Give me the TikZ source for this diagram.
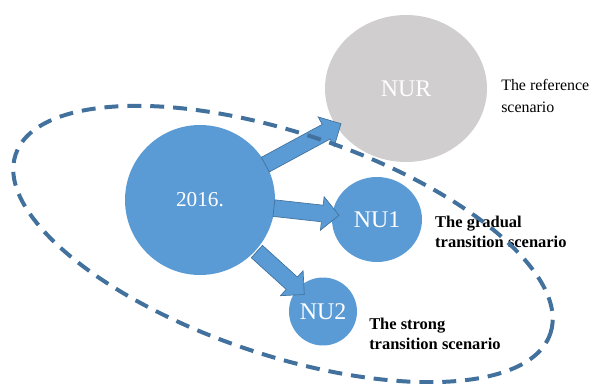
\documentclass[tikz,border=0pt]{standalone}
\usepackage{fontspec}
\setmainfont{Liberation Serif}
\usetikzlibrary{shapes.geometric}
\usetikzlibrary{shapes.arrows}

\begin{document}
\begin{tikzpicture}[
    bubble/.style={ellipse, inner sep=0pt, fill={rgb,255:red,91;green,155;blue,213}, text={rgb,255:red,255;green,255;blue,255}, font=\fontsize{18}{20}\selectfont},
    blockarrow/.style={single arrow, sloped, inner xsep=0pt, inner ysep=0.2115cm, single arrow head extend=0.225cm, draw={rgb,255:red,65;green,113;blue,156}, fill={rgb,255:red,91;green,155;blue,213}, line width=0.5pt},
    caption/.style={anchor=west, align=left, inner sep=0pt, text={rgb,255:red,0;green,0;blue,0}},
    rimline/.style={draw={rgb,255:red,65;green,113;blue,156}, line width=3pt, dash pattern=on 10.5pt off 6.75pt}
]
    \useasboundingbox (0,0) rectangle (15.690,10.134);

    \node[bubble, minimum width=3.969cm, minimum height=3.969cm, font=\fontsize{16}{18}\selectfont] (ndYear) at (5.292,4.842) {2016.};
    \node[bubble, minimum width=4.286cm, minimum height=3.889cm, fill={rgb,255:red,208;green,206;blue,206}] (ndRef) at (10.742,7.792) {NUR};
    \node[bubble, minimum width=2.381cm, minimum height=2.249cm] (ndGradual) at (9.975,4.326) {NU1};
    \node[bubble, minimum width=1.799cm, minimum height=1.799cm] (ndStrong) at (8.546,1.892) {NU2};

    \path (ndYear.center) -- (ndRef.center) node[blockarrow, pos=0.483, minimum height=2.275cm] (ndArrowRef) {};
    \path (ndYear.center) -- (ndGradual.center) node[blockarrow, pos=0.578, minimum height=1.733cm] (ndArrowGradual) {};
    \path (ndYear.center) -- (ndStrong.center) node[blockarrow, pos=0.630, minimum height=1.693cm] (ndArrowStrong) {};

    \node[caption, font=\fontsize{12}{16.5}\selectfont] (ndRefText) at (13.256,7.593) {The reference\\scenario};
    \node[caption, font=\bfseries\fontsize{12.4}{15}\selectfont] (ndGradualText) at (11.509,3.995) {The gradual\\transition scenario};
    \node[caption, font=\bfseries\fontsize{12.4}{15}\selectfont] (ndStrongText) at (9.763,1.296) {The strong\\transition scenario};

    \coordinate (ptRim) at (7.488,3.678);
    \draw[rimline, rotate around={-18.5:(ptRim)}] (ptRim) ellipse [x radius=7.461cm, y radius=2.937cm];
\end{tikzpicture}
\end{document}
